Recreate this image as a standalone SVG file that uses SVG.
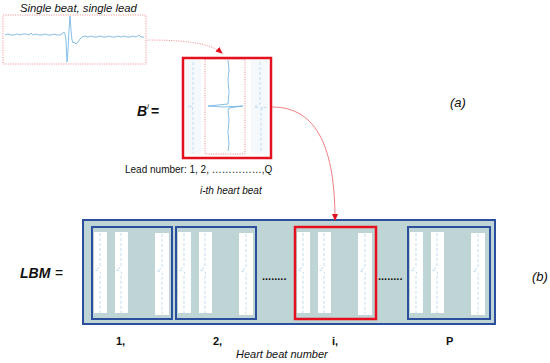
<svg xmlns="http://www.w3.org/2000/svg" xmlns:xlink="http://www.w3.org/1999/xlink" width="550" height="363" viewBox="0 0 550 363">
<style>
text{font-family:"Liberation Sans",Arial,sans-serif;fill:#111}
.it{font-style:italic}
.bi{font-style:italic;font-weight:bold}
.b{font-weight:bold}
.wave{fill:none;stroke:#6aaee2;stroke-width:0.8}
.wavel{fill:none;stroke:#9cc8ea;stroke-width:0.6;stroke-dasharray:3 2}
.col{fill:#fff}
.blue{fill:none;stroke:#2b4f9c;stroke-width:2}
.red{fill:none;stroke:#e5101f;stroke-width:2.5}
.dotr{fill:none;stroke:#ef7f86;stroke-width:0.8;stroke-dasharray:1.2 1.2}
.conn{fill:none;stroke:#f27d86;stroke-width:1}
</style>
<defs>
<marker id="ah" markerWidth="8" markerHeight="8" refX="6" refY="3" orient="auto" markerUnits="userSpaceOnUse">
<path d="M0,0 L7,3 L0,6 Z" fill="#e5101f"/>
</marker>
<g id="beat">
<rect class="col" x="2" y="5" width="13" height="81"/>
<rect class="col" x="23" y="5" width="13" height="81"/>
<rect class="col" x="63" y="6" width="14" height="82"/>
<path class="wavel" d="M8,6 V40 l-5,3 4,1 2,2 -1,1 V86"/>
<path class="wavel" d="M29,6 V40 l-5,3 4,1 2,2 -1,1 V86"/>
<path class="wavel" d="M70,7 V41 l-5,3 4,1 2,2 -1,1 V87"/>
</g>
</defs>

<g id="single-lead">
<text class="it" x="20" y="12" font-size="11.3">Single beat, single lead</text>
<rect class="dotr" x="3" y="15" width="143" height="49"/>
<path class="wave" d="M5,35 l3,-1 3,1 3,0 3,-1 3,1 3,-1 3,0 3,1 2,-2 2,2 3,-1 3,1 3,0 3,-1 3,1 3,0 3,-1 3,1 3,0 2,-1 2,-2 1,2 1,6 1,22 1,-12 1,-20 1,-14 1,14 1,10 1,3 1,-1 2,2 2,-2 2,-3 2,-2 3,-1 3,1 3,-1 3,1 3,0 3,-1 3,1 3,0 3,-1 3,1 3,0 3,-1 3,1 3,-1 3,1 3,0 3,-1 3,1 3,-2 2,2 3,0"/>
</g>

<g id="beat-matrix">
<text class="bi" x="137" y="116" font-size="14">B</text>
<text class="it" x="147" y="109" font-size="8">i</text>
<text class="b" x="151" y="116" font-size="14"> =</text>
<rect x="184" y="58" width="86" height="99" fill="#fff"/>
<rect x="186" y="60" width="15" height="94" fill="#f6f9fc"/>
<rect x="251" y="60" width="17" height="94" fill="#f6f9fc"/>
<path class="wavel" d="M193,62 V104 l-5,3 6,0 -2,2 1,1 V153"/>
<path class="wave" d="M228,60 l1,10 -1,10 1,12 -1,12 -20,2 15,1 20,-1 -14,2 -1,2 1,10 -1,12 1,12 -1,7"/>
<path class="wavel" d="M260,62 V104 l-6,3 8,1 4,-1 -5,2 V153"/>
<rect class="dotr" x="205" y="59" width="40" height="95"/>
<rect class="red" x="183" y="58" width="88" height="100"/>
<text x="125" y="173" font-size="10">Lead number: 1, 2, ……………,Q</text>
<text class="it" x="200" y="194" font-size="10">i-th heart beat</text>
</g>

<g id="label-a"><text class="it" x="450" y="107" font-size="13">(a)</text></g>

<g id="lbm">
<text class="bi" x="20" y="278" font-size="14">LBM</text>
<text x="55" y="278" font-size="14">=</text>
<rect x="83" y="220" width="412" height="104" fill="#bfd4d4" stroke="#2b4f9c" stroke-width="2"/>
<g id="beat-1"><use xlink:href="#beat" x="92" y="227"/><rect class="blue" x="92" y="227" width="80" height="92"/></g>
<g id="beat-2"><use xlink:href="#beat" x="176" y="227"/><rect class="blue" x="176" y="227" width="80" height="92"/></g>
<g id="beat-i"><use xlink:href="#beat" x="295" y="227"/><rect class="red" x="295" y="227" width="81" height="92"/></g>
<g id="beat-p"><use xlink:href="#beat" x="408" y="227"/><rect class="blue" x="408" y="227" width="82" height="92"/></g>
<text class="b" x="262" y="280" font-size="11">........</text>
<text class="b" x="378" y="280" font-size="11">........</text>
<text class="b" x="116" y="345" font-size="11">1,</text>
<text class="b" x="213" y="345" font-size="11">2,</text>
<text class="b" x="332" y="345" font-size="11">i,</text>
<text class="b" x="446" y="345" font-size="11">P</text>
<text class="it" x="236" y="358" font-size="11">Heart beat number</text>
</g>

<g id="label-b"><text class="it" x="532" y="281" font-size="13">(b)</text></g>

<g id="connectors">
<path class="dotr" d="M147,40 C185,40 210,43 222,53" marker-end="url(#ah)"/>
<path class="conn" d="M272,107 C318,107 335,150 335,220" marker-end="url(#ah)"/>
</g>
</svg>
